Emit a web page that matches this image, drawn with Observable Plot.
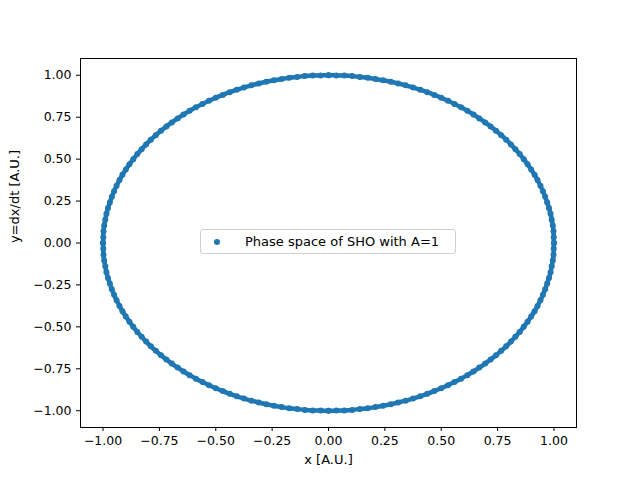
<!DOCTYPE html>
<html>
<head>
<meta charset="utf-8">
<script src="https://cdn.jsdelivr.net/npm/d3@7"></script>
<script src="https://cdn.jsdelivr.net/npm/@observablehq/plot@0.6"></script>
<style>
  body { margin: 0; background: #fff; font-family: "DejaVu Sans", sans-serif; }
  #wrap { position: relative; width: 640px; height: 480px; }
  #legend { position: absolute; left: 200px; top: 229px; width: 256px; height: 25px;
    border: 1px solid #d0d0d0; border-radius: 3px; background: rgba(255,255,255,0.8);
    font-size: 13px; box-sizing: border-box; }
  #legend span.d { position: absolute; left: 13px; top: 9px; width: 6px; height: 6px; border-radius: 50%; background: #1f77b4; }
  #legend span.t { position: absolute; left: 44px; top: 4px; color: #000; }
</style>
</head>
<body>
<div id="wrap">
  <div id="chart"></div>
  <div id="legend"><span class="d"></span><span class="t">Phase space of SHO with A=1</span></div>
</div>
<script>
const quarter = [1.000, 0.999, 0.998, 0.995, 0.990, 0.985, 0.978, 0.970, 0.961, 0.951,
  0.940, 0.927, 0.914, 0.899, 0.883, 0.866, 0.848, 0.829, 0.809, 0.788,
  0.766, 0.743, 0.719, 0.695, 0.669, 0.643, 0.616, 0.588, 0.559, 0.530,
  0.500, 0.469, 0.438, 0.407, 0.375, 0.342, 0.309, 0.276, 0.242, 0.208,
  0.174, 0.139, 0.105, 0.070, 0.035, 0.000]
const ticks = [-1, -0.75, -0.5, -0.25, 0, 0.25, 0.5, 0.75, 1]

// four quadrants of the orbit from the quarter table
let pts = []
quarter.forEach((c, i) => {
  const s = quarter[quarter.length - 1 - i]
  pts.push({x: c, y: s}, {x: -c, y: s}, {x: c, y: -s}, {x: -c, y: -s})
})

let chart = Plot.plot({
  width: 640,
  height: 480,
  marginLeft: 80,
  marginRight: 64,
  marginTop: 58,
  marginBottom: 53,
  style: {fontFamily: "DejaVu Sans", fontSize: "12.5px", color: "#000", background: "#fff"},
  x: {domain: [-1.1, 1.1], ticks: ticks, tickFormat: d3.format(".2f"), tickSize: 4, label: null},
  y: {domain: [-1.1, 1.1], ticks: ticks, tickFormat: d3.format(".2f"), tickSize: 4, label: null},
  marks: [
    Plot.line(pts.slice().sort((a, b) => Math.atan2(a.y, a.x) - Math.atan2(b.y, b.x)), {x: "x", y: "y", stroke: "#1f77b4", strokeWidth: 4.5, curve: "catmull-rom-closed"}),
    Plot.dot(pts, {x: "x", y: "y", r: 3, fill: "#1f77b4", stroke: "none"}),
    Plot.frame({stroke: "#000"}),
    Plot.text(["x [A.U.]"], {frameAnchor: "bottom", dy: 36, fontSize: 13}),
    Plot.text(["y=dx/dt [A.U.]"], {frameAnchor: "left", dx: -66, rotate: -90, fontSize: 13})
  ]
})

d3.select('#chart').append(() => chart)
</script>
</body>
</html>
